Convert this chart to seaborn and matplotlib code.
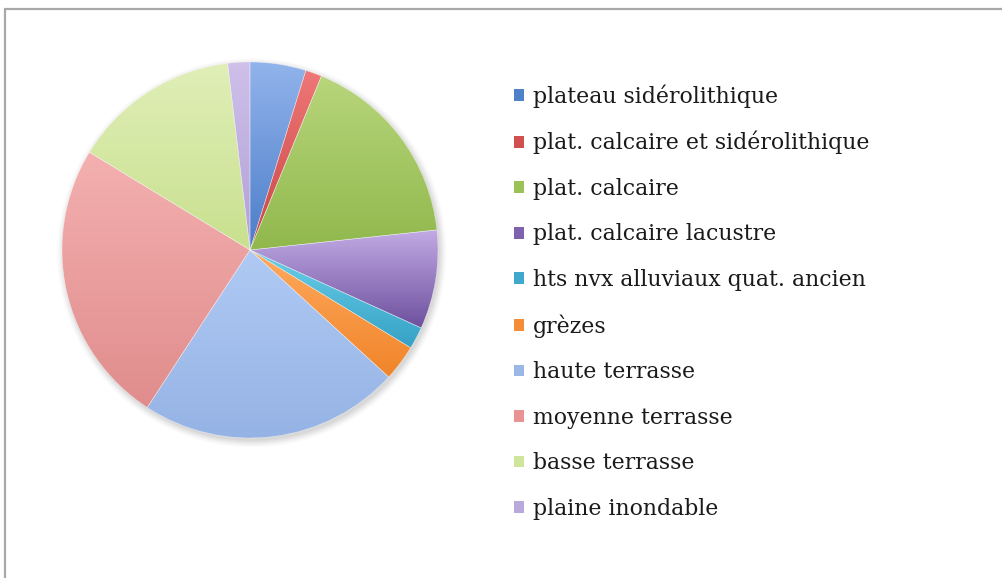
import numpy as np
import matplotlib
matplotlib.use("Agg")
import matplotlib.pyplot as plt
import matplotlib.colors as mcolors
from matplotlib.patches import Patch
from matplotlib.lines import Line2D
import seaborn as sns

# Land-unit categories and their share of the surface (%)
categories = [
    "plateau sidérolithique",
    "plat. calcaire et sidérolithique",
    "plat. calcaire",
    "plat. calcaire lacustre",
    "hts nvx alluviaux quat. ancien",
    "grèzes",
    "haute terrasse",
    "moyenne terrasse",
    "basse terrasse",
    "plaine inondable",
]
shares = [4.8, 1.4, 17.1, 8.5, 1.9, 3.1, 22.4, 24.5, 14.4, 1.9]

# Light (top) and dark (bottom) shade for each slice
light_colors = ["#93b4ec", "#f07878", "#b8d67c", "#c3ace6", "#6cd0ea",
                "#ffaa60", "#b0caf4", "#f4b0b0", "#e0efb8", "#cfc0ea"]
dark_colors = ["#4a7cc8", "#c84444", "#90b84c", "#6c4e9c", "#34a0c4",
               "#f08428", "#94b2e4", "#e08c8c", "#c8e08e", "#b0a0d6"]
legend_colors = ["#4f81c9", "#d24f4f", "#9bc257", "#7e62ae", "#40a8cc",
                 "#f48c38", "#9bb7e6", "#e89392", "#cfe59c", "#b8a8dc"]

sns.set_theme(style="white")
plt.rcParams["font.family"] = ["DejaVu Serif"]

W, H = 1002, 578
fig = plt.figure(figsize=(W / 100, H / 100), dpi=100)
fig.patch.set_facecolor("white")

# Chart frame (top and left edges)
fig.add_artist(Line2D([5 / W, 1.0], [1 - 9 / H, 1 - 9 / H],
                      transform=fig.transFigure, color="#a8a8a8", lw=1.6))
fig.add_artist(Line2D([5 / W, 5 / W], [0.0, 1 - 9 / H],
                      transform=fig.transFigure, color="#a8a8a8", lw=1.6))

# Pie axes: centre (250, 250) px, radius 188 px
cx, cy, r = 250, 250, 188
pad = 1.05
ax = fig.add_axes([(cx - r * pad) / W, (H - cy - r * pad) / H,
                   2 * r * pad / W, 2 * r * pad / H])
ax.set_aspect("equal")
ax.axis("off")

# soft shadow around the pie
for k, a in zip(np.linspace(1.035, 1.0, 6), np.linspace(0.03, 0.08, 6)):
    ax.add_patch(plt.Circle((0.01, -0.015), k, color="#808080", alpha=a, lw=0, zorder=0))

wedges, _ = ax.pie(shares, startangle=90, counterclock=False, radius=1.0,
                   colors=legend_colors,
                   wedgeprops=dict(linewidth=0.4, edgecolor=(1, 1, 1, 0.5)))

# vertical gradient fill clipped to each wedge
for w, c1, c2 in zip(wedges, light_colors, dark_colors):
    path = w.get_path()
    verts = w.get_patch_transform().transform(path.vertices)
    y0, y1 = verts[:, 1].min(), verts[:, 1].max()
    x0, x1 = verts[:, 0].min(), verts[:, 0].max()
    cmap = mcolors.LinearSegmentedColormap.from_list("g", [c2, c1])
    grad = np.linspace(0, 1, 256).reshape(-1, 1)
    im = ax.imshow(grad, cmap=cmap, origin="lower", aspect="auto",
                   extent=(x0 - 0.01, x1 + 0.01, y0 - 0.01, y1 + 0.01),
                   interpolation="bilinear", zorder=1)
    im.set_clip_path(w)
    w.set_facecolor("none")
    w.set_zorder(2)
ax.set_xlim(-pad, pad)
ax.set_ylim(-pad, pad)

# Legend
handles = [Patch(facecolor=c, edgecolor="none") for c in legend_colors]
leg = fig.legend(handles, categories, loc="upper left",
                 bbox_to_anchor=(514 / W, 1 - 84 / H),
                 frameon=False, fontsize=15.8,
                 handlelength=0.45, handleheight=0.45, handletextpad=0.42,
                 labelspacing=1.07, borderaxespad=0, borderpad=0)
for t in leg.get_texts():
    t.set_color("#1a1a1a")

fig.savefig("out.png", dpi=100, facecolor="white")
